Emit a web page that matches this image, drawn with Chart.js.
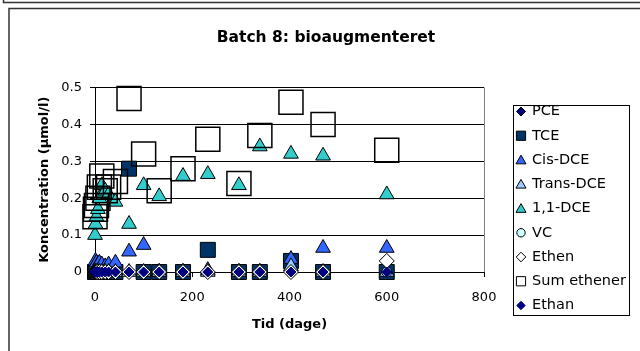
<!DOCTYPE html>
<html><head><meta charset="utf-8">
<script src="https://cdn.jsdelivr.net/npm/chart.js@4/dist/chart.umd.min.js"></script>
<style>html,body{margin:0;padding:0;background:#fff;overflow:hidden}canvas{display:block}</style>
</head><body>
<canvas id="c" width="640" height="351"></canvas>
<script>
// ---- data ----
const chartTitle = 'Batch 8: bioaugmenteret';
const xTitle = 'Tid (dage)';
const yTitle = 'Koncentration (µmol/l)';
const xTicks = [0, 200, 400, 600, 800];
const yTicks = [0, 0.1, 0.2, 0.3, 0.4, 0.5];
const yTickLabels = ['0', '0.1', '0.2', '0.3', '0.4', '0.5'];
const seriesNames = ['PCE', 'TCE', 'Cis-DCE', 'Trans-DCE', '1,1-DCE', 'VC', 'Ethen', 'Sum ethener', 'Ethan'];
const days       = [0, 1, 3, 6, 9, 14, 21, 28, 42, 70, 100, 132, 181, 232, 296, 339, 403, 469, 600];
const pce        = [0, 0, 0, 0, 0, 0, 0, 0, 0, 0, 0, 0, 0, 0, 0, 0, 0, 0, 0];
const tce        = [0, 0, 0, 0, 0, 0, 0, 0, 0, 0.28, 0, 0, 0, 0.06, 0, 0, 0.03, 0, 0];
const cisDce     = [0.02, 0.03, 0.025, 0.02, 0.025, 0.02, 0.015, 0.02, 0.025, 0.055, 0.073, 0, 0, 0.005, 0, 0, 0.035, 0.065, 0.065];
const transDce   = [0, 0, 0, 0, 0, 0, 0, 0, 0, 0, 0, 0, 0, 0, 0, 0, 0.015, 0, 0];
const dce11      = [0.10, 0.13, 0.15, 0.17, 0.20, 0.235, 0.22, 0.21, 0.19, 0.13, 0.235, 0.205, 0.26, 0.265, 0.235, 0.34, 0.32, 0.315, 0.21];
const vc         = [0, 0, 0, 0, 0, 0, 0, 0, 0, 0, 0, 0, 0, 0, 0, 0, 0, 0, 0];
const ethen      = [0, 0, 0, 0, 0, 0, 0, 0, 0, 0, 0, 0, 0, 0, 0, 0, 0, 0, 0.03];
const sumEthener = [0.15, 0.17, 0.18, 0.20, 0.23, 0.26, 0.22, 0.23, 0.245, 0.47, 0.32, 0.22, 0.28, 0.36, 0.24, 0.37, 0.46, 0.40, 0.33];
const ethan      = [0, 0, 0, 0, 0, 0, 0, 0, 0, 0, 0, 0, 0, 0, 0, 0, 0, 0, 0];
const seriesValues = [pce, tce, cisDce, transDce, dce11, vc, ethen, sumEthener, ethan];

// ---- styles ----
const styles = [
  {pointStyle:'rectRot', radius:5.5, bg:'#000080', border:'#000000', bw:1, lr:4.5},
  {pointStyle:'rect', radius:10.6, bg:'#003366', border:'#000000', bw:1, lr:6.5},
  {pointStyle:'triangle', radius:8.5, bg:'#3366FF', border:'#000000', bw:1, lr:5.8},
  {pointStyle:'triangle', radius:8.5, bg:'#99CCFF', border:'#000000', bw:1, lr:5.8},
  {pointStyle:'triangle', radius:8.5, bg:'#33CCCC', border:'#000000', bw:1, lr:5.8},
  {pointStyle:'circle', radius:5, bg:'#CCFFFF', border:'#000000', bw:1, lr:4.2},
  {pointStyle:'rectRot', radius:7.5, bg:'#FFFFFF', border:'#000000', bw:1, lr:4.8},
  {pointStyle:'rect', radius:17, bg:'rgba(0,0,0,0)', border:'#000000', bw:1.5, lr:6.5},
  {pointStyle:'rectRot', radius:5, bg:'#000080', border:'#000080', bw:1, lr:4.2}
];

const FONT = 'DejaVu Sans';
Chart.defaults.font.family = FONT;
Chart.defaults.color = '#000';

const datasets = seriesNames.map((name, i) => ({
  label: name,
  data: days.map((d, j) => ({x: d, y: seriesValues[i][j]})),
  showLine: false,
  pointStyle: styles[i].pointStyle,
  pointRadius: styles[i].radius,
  pointHoverRadius: styles[i].radius,
  pointBackgroundColor: styles[i].bg,
  pointBorderColor: styles[i].border,
  pointBorderWidth: styles[i].bw,
  backgroundColor: styles[i].bg,
  borderColor: styles[i].border,
  order: seriesNames.length - i,
  clip: false,
  yAxisID: 'y',
  xAxisID: 'x'
}));

function drawMarker(ctx, style, r, x, y, bg, border, bw) {
  ctx.save();
  ctx.beginPath();
  if (style === 'rectRot') {
    ctx.moveTo(x - r, y); ctx.lineTo(x, y - r); ctx.lineTo(x + r, y); ctx.lineTo(x, y + r); ctx.closePath();
  } else if (style === 'rect') {
    const s = r * Math.SQRT1_2; ctx.rect(x - s, y - s, 2 * s, 2 * s);
  } else if (style === 'triangle') {
    const h = r * Math.sqrt(3) / 2;
    ctx.moveTo(x, y - r * 0.75 - 0.5); ctx.lineTo(x + h, y + r * 0.75 - 0.5); ctx.lineTo(x - h, y + r * 0.75 - 0.5); ctx.closePath();
  } else {
    ctx.arc(x, y, r, 0, Math.PI * 2);
  }
  ctx.fillStyle = bg; ctx.fill();
  ctx.lineWidth = bw; ctx.strokeStyle = border; ctx.stroke();
  ctx.restore();
}

const framePlugin = {
  id: 'frames',
  beforeDraw(chart) {
    const ctx = chart.ctx;
    ctx.save();
    ctx.fillStyle = '#fff';
    ctx.fillRect(0, 0, chart.width, chart.height);
    ctx.strokeStyle = '#333';
    ctx.lineWidth = 1.5;
    ctx.beginPath();
    ctx.moveTo(3.5, 0); ctx.lineTo(3.5, 2.5); ctx.lineTo(640, 2.5);
    ctx.stroke();
    ctx.beginPath();
    ctx.moveTo(9, 351); ctx.lineTo(9, 8.5); ctx.lineTo(640, 8.5);
    ctx.stroke();
    ctx.restore();
  },
  beforeDatasetsDraw(chart) {
    const {ctx, chartArea} = chart;
    ctx.save();
    ctx.strokeStyle = '#808080';
    ctx.lineWidth = 1;
    ctx.beginPath();
    const r = Math.round(chartArea.right) + 0.5;
    ctx.moveTo(r, chartArea.top); ctx.lineTo(r, chartArea.bottom);
    ctx.stroke();
    ctx.restore();
  },
  afterDraw(chart) {
    const ctx = chart.ctx;
    ctx.save();
    ctx.strokeStyle = '#000';
    ctx.lineWidth = 1;
    ctx.strokeRect(513.5, 105.5, 116, 210);
    ctx.font = '14.5px "' + FONT + '"';
    ctx.textBaseline = 'middle';
    ctx.textAlign = 'left';
    ctx.fillStyle = '#000';
    chart.data.datasets.forEach((ds, i) => {
      const y = 111.5 + i * 24.25;
      const st = styles[i];
      drawMarker(ctx, st.pointStyle, st.lr, 521, y, st.bg, st.border, 1);
      ctx.fillStyle = '#000';
      ctx.fillText(ds.label, 532, y);
    });
    ctx.restore();
  }
};

new Chart(document.getElementById('c'), {
  type: 'scatter',
  data: {datasets},
  options: {
    responsive: false,
    devicePixelRatio: 1,
    animation: false,
    events: [],
    layout: {padding: {left: 12, right: 0, top: 0, bottom: 0}},
    plugins: {
      legend: {display: false},
      tooltip: {enabled: false},
      title: {
        display: true,
        text: chartTitle,
        color: '#000',
        font: {family: FONT, size: 15.5, weight: 'bold'},
        padding: {top: 28.7, bottom: 40.2}
      }
    },
    scales: {
      x: {
        type: 'linear',
        position: 'bottom',
        min: xTicks[0],
        max: xTicks[xTicks.length - 1],
        afterBuildTicks: s => { s.ticks = xTicks.map(v => ({value: v})); },
        afterFit: s => { s.height = 79; },
        ticks: {
          font: {family: FONT, size: 13},
          color: '#000',
          padding: 12.4,
          maxRotation: 0,
          callback: v => String(v)
        },
        grid: {display: true, drawOnChartArea: false, drawTicks: true, tickLength: 5, color: '#000'},
        border: {display: true, color: '#000', width: 1},
        title: {
          display: true, text: xTitle, color: '#000',
          font: {family: FONT, size: 13, weight: 'bold'},
          padding: {top: 0, bottom: 18.7}
        }
      },
      y: {
        type: 'linear',
        position: 'left',
        min: yTicks[0],
        max: yTicks[yTicks.length - 1],
        afterBuildTicks: s => { s.ticks = yTicks.map(v => ({value: v})); },
        afterFit: s => { s.width = 83; },
        ticks: {
          font: {family: FONT, size: 13},
          color: '#000',
          padding: 8,
          callback: (v) => { const k = yTicks.findIndex(t => Math.abs(t - v) < 1e-9); return k >= 0 ? yTickLabels[k] : ''; }
        },
        grid: {display: true, drawOnChartArea: true, drawTicks: true, tickLength: 5, color: '#000', lineWidth: 1},
        border: {display: true, color: '#000', width: 1},
        title: {
          display: true, text: yTitle, color: '#000',
          font: {family: FONT, size: 13, weight: 'bold'},
          padding: {top: 25.2, bottom: 0}
        }
      },
      yR: {
        type: 'linear',
        position: 'right',
        display: true,
        ticks: {display: false},
        grid: {display: false},
        border: {display: false},
        afterFit: s => { s.width = 156; }
      }
    }
  },
  plugins: [framePlugin]
});
</script>
</body></html>
